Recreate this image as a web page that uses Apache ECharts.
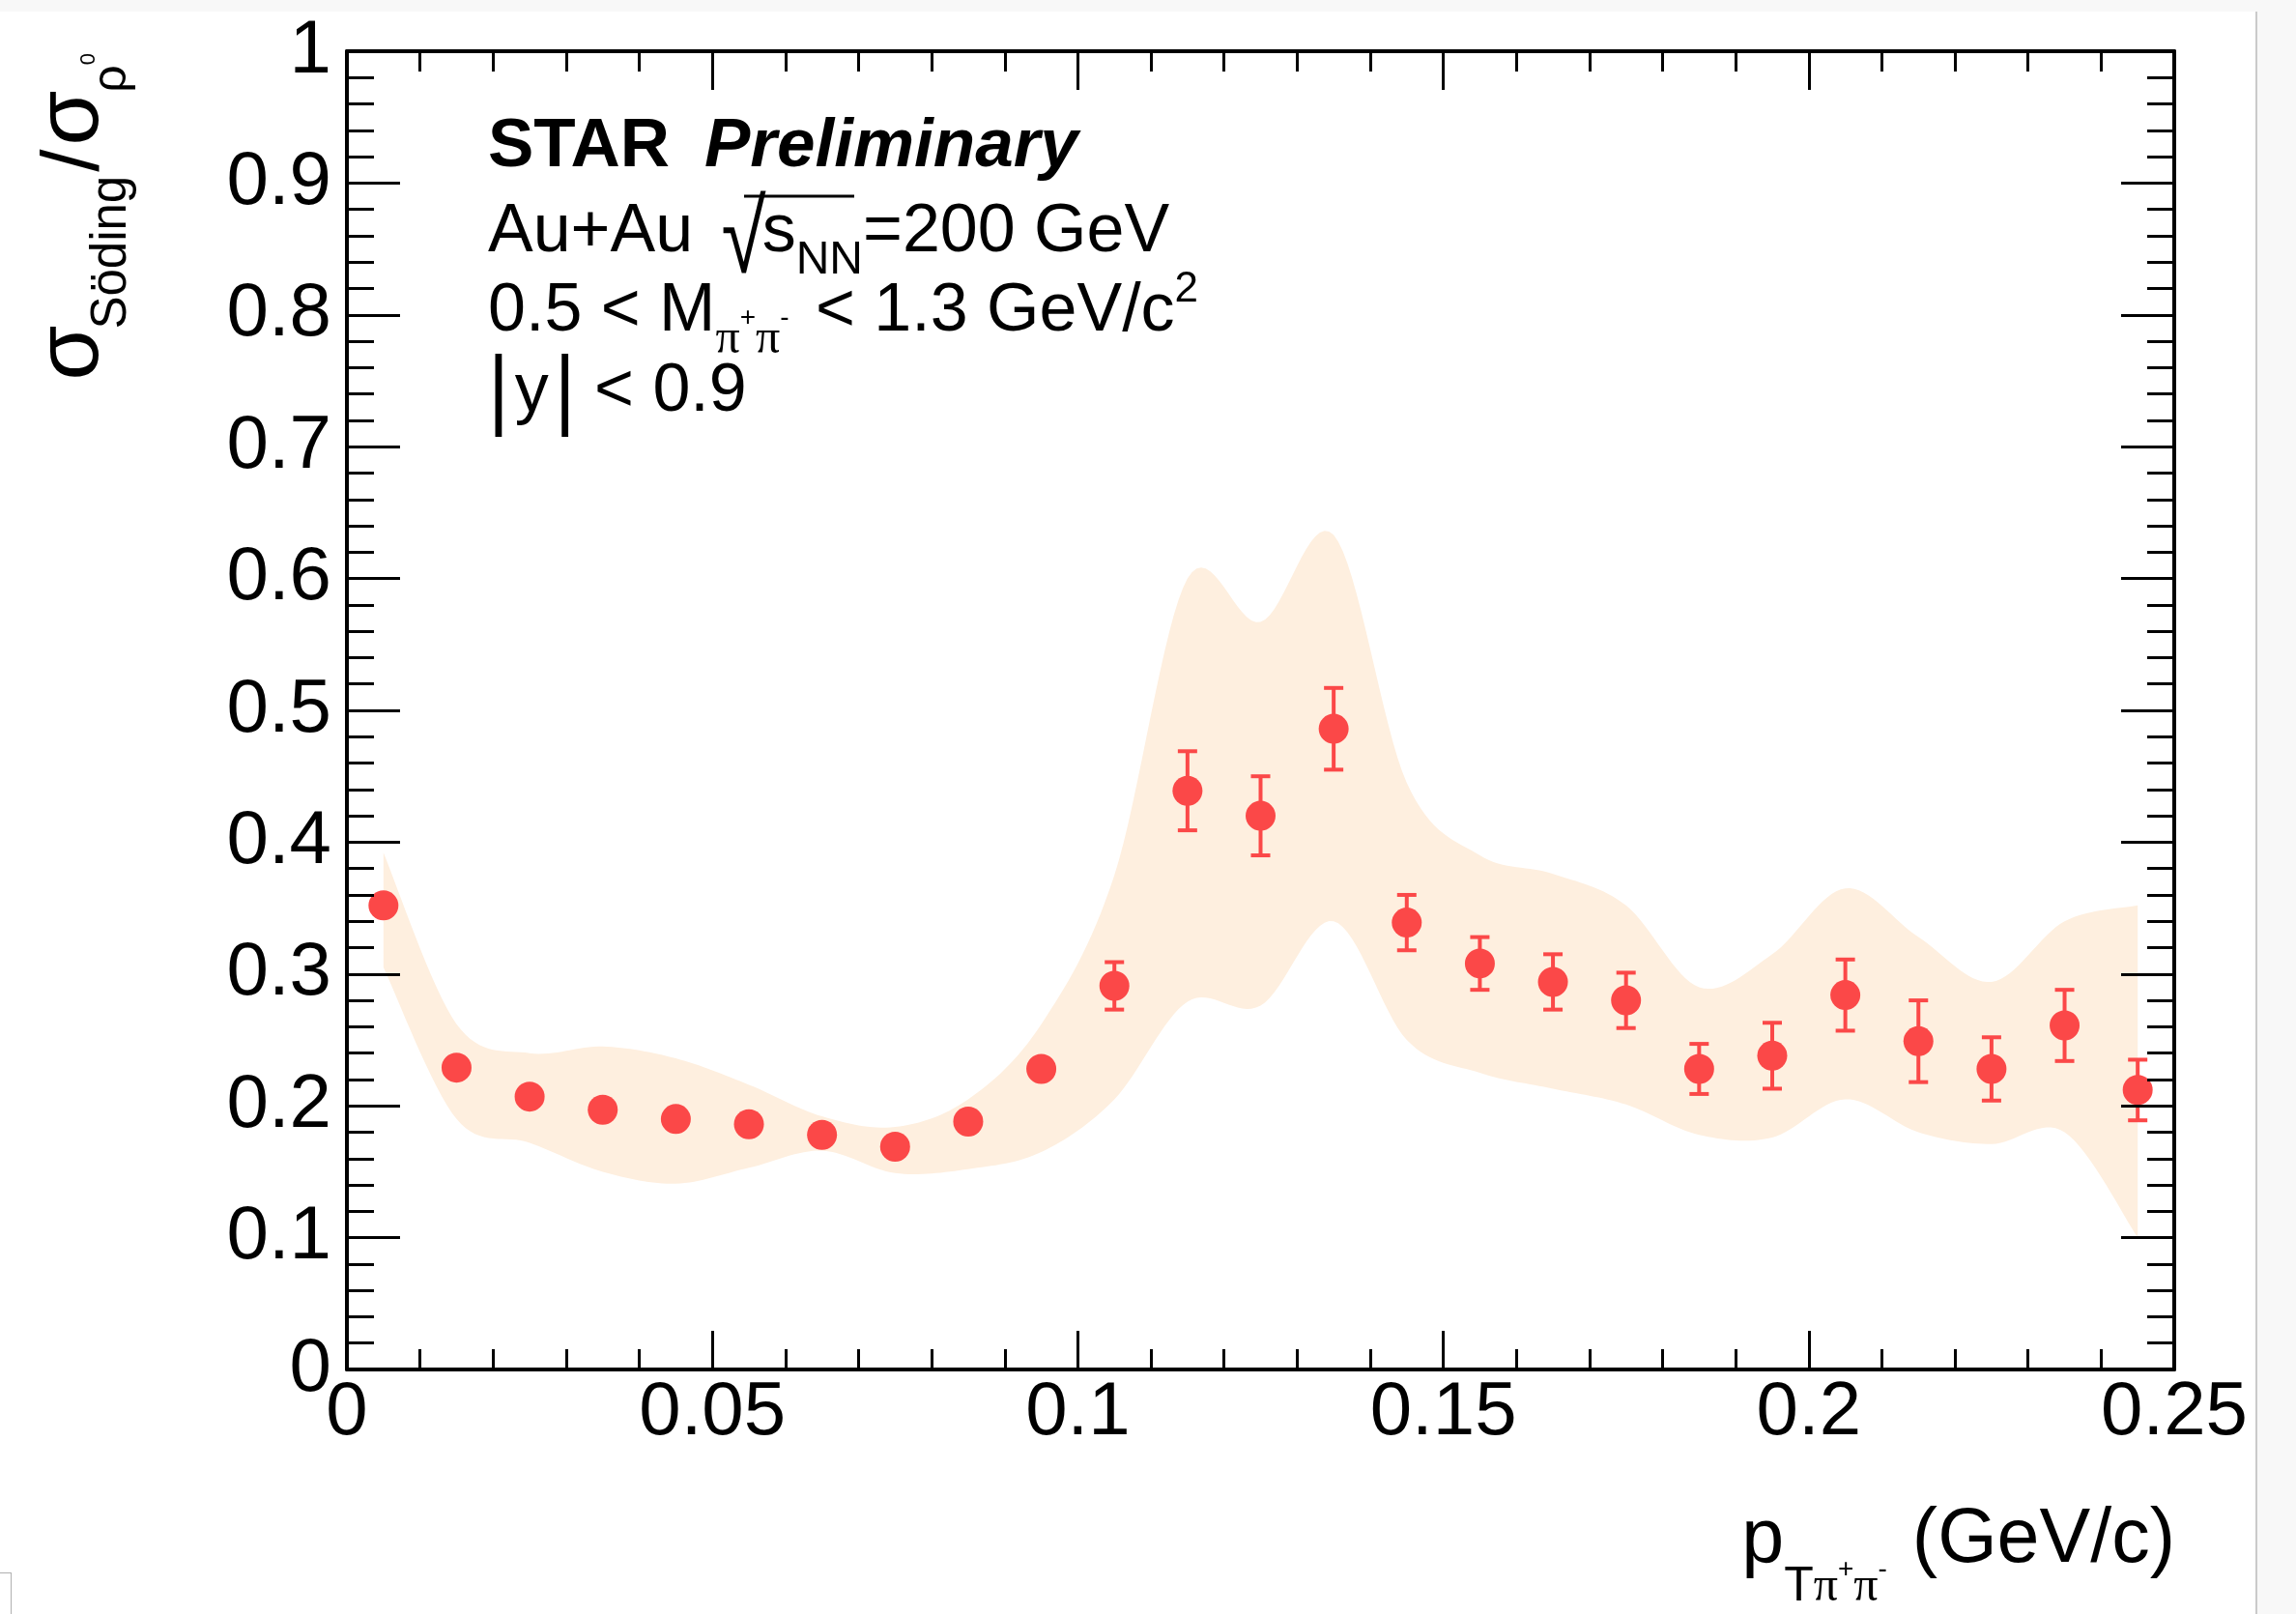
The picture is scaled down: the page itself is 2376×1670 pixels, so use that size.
<!DOCTYPE html>
<html>
<head>
<meta charset="utf-8">
<title>Söding / rho0 ratio vs pT</title>
<script src="https://cdn.jsdelivr.net/npm/echarts/dist/echarts.min.js"></script>
<style>
  html, body { margin: 0; padding: 0; background: #f8f8f8; overflow: hidden; }
  #panel { position: absolute; left: 0; top: 12px; width: 2334px; height: 1658px; background: #fff; border-right: 2px solid #cacaca; }
  #corner { position: absolute; left: -2px; top: 1627px; width: 12px; height: 60px; border: 1px solid #b0b0b0; background: #fff; }
  #chart { position: absolute; left: 0; top: 0; width: 2376px; height: 1670px; }
</style>
</head>
<body>
<div id="panel"></div>
<div id="corner"></div>
<div id="chart"></div>
<script>
// pT bin centres (GeV/c)
const ptBins = [0.005, 0.015, 0.025, 0.035, 0.045, 0.055, 0.065, 0.075, 0.085, 0.095,
                0.105, 0.115, 0.125, 0.135, 0.145, 0.155, 0.165, 0.175, 0.185, 0.195,
                0.205, 0.215, 0.225, 0.235, 0.245];
// sigma_Soding / sigma_rho0
const ratio = [0.352, 0.229, 0.207, 0.197, 0.190, 0.186, 0.178, 0.169, 0.188, 0.228,
               0.291, 0.439, 0.420, 0.486, 0.339, 0.308, 0.294, 0.280, 0.228, 0.238,
               0.284, 0.249, 0.228, 0.261, 0.212];
// statistical uncertainty
const statErr = [0.006, 0.006, 0.006, 0.006, 0.006, 0.006, 0.006, 0.007, 0.008, 0.009,
                 0.018, 0.030, 0.030, 0.031, 0.021, 0.020, 0.021, 0.021, 0.019, 0.025,
                 0.027, 0.031, 0.024, 0.027, 0.023];
// systematic band edges
const sysHigh = [0.392, 0.262, 0.240, 0.245, 0.236, 0.216, 0.192, 0.184, 0.205, 0.262,
                 0.375, 0.600, 0.567, 0.633, 0.445, 0.390, 0.376, 0.352, 0.290, 0.315,
                 0.365, 0.328, 0.294, 0.340, 0.352];
const sysLow  = [0.305, 0.190, 0.172, 0.150, 0.141, 0.153, 0.166, 0.149, 0.152, 0.165,
                 0.205, 0.279, 0.276, 0.340, 0.250, 0.225, 0.213, 0.201, 0.178, 0.176,
                 0.205, 0.180, 0.171, 0.180, 0.100];
// axis tick labels
const xTicks = [0, 0.05, 0.1, 0.15, 0.2, 0.25];
const xTickLabels = ['0', '0.05', '0.1', '0.15', '0.2', '0.25'];
const yTicks = [0, 0.1, 0.2, 0.3, 0.4, 0.5, 0.6, 0.7, 0.8, 0.9, 1];
const yTickLabels = ['0', '0.1', '0.2', '0.3', '0.4', '0.5', '0.6', '0.7', '0.8', '0.9', '1'];

const RED = '#fb4848';
const BAND = '#feefdf';
const MARKER = 31;
const SANS = "'Liberation Sans'";
const SERIF = "'Liberation Serif'";

// Catmull-Rom resampling of a pixel polyline, used for the smooth band edges
function catmull(pts, steps) {
  const out = [];
  for (let i = 0; i < pts.length - 1; i++) {
    const p0 = pts[Math.max(i - 1, 0)], p1 = pts[i], p2 = pts[i + 1], p3 = pts[Math.min(i + 2, pts.length - 1)];
    for (let s = 0; s < steps; s++) {
      const t = s / steps, t2 = t * t, t3 = t2 * t;
      const f = k => 0.5 * (2 * p1[k] + (-p0[k] + p2[k]) * t + (2 * p0[k] - 5 * p1[k] + 4 * p2[k] - p3[k]) * t2 + (-p0[k] + 3 * p1[k] - 3 * p2[k] + p3[k]) * t3);
      out.push([f(0), f(1)]);
    }
  }
  out.push(pts[pts.length - 1]);
  return out;
}

// small TLatex-like run layout: each run is a piece of text with its own size / offset
const mctx = document.createElement('canvas').getContext('2d');
function fontOf(r) {
  return (r.italic ? 'italic ' : '') + (r.bold ? 'bold ' : '') + r.size + 'px ' + (r.family || SANS);
}
function layoutRuns(runs) {
  let x = 0;
  const els = [];
  runs.forEach(r => {
    x += (r.dx || 0);
    const font = fontOf(r);
    mctx.font = font;
    const w = mctx.measureText(r.text).width;
    els.push({
      type: 'group', x: x, y: (r.dy || 0), scaleY: r.sy || 1, silent: true,
      children: [{
        type: 'text', x: 0, y: -0.35 * r.size, silent: true,
        style: { text: r.text, font: font, fill: '#000', align: 'left', verticalAlign: 'middle', textAlign: 'left', textVerticalAlign: 'middle' }
      }]
    });
    x += w + (r.after || 0);
  });
  return { els: els, width: x };
}
function textLine(runs, x, baseline, anchor) {
  const t = layoutRuns(runs);
  return { type: 'group', x: anchor === 'right' ? x - t.width : x, y: baseline, children: t.els };
}

const annotations = [
  textLine([
    { text: 'STAR', size: 71, bold: true },
    { text: 'Preliminary', size: 71, bold: true, italic: true, dx: 36 }
  ], 505, 177),
  textLine([
    { text: 'Au+Au ', size: 70 },
    { text: '\u221A', size: 84, dx: 10, dy: 25, sy: 1.27 },
    { text: 's', size: 70, dx: -4 },
    { text: 'NN', size: 48, dy: 22 },
    { text: '=200 GeV', size: 70 }
  ], 505, 265),
  textLine([
    { text: '0.5 < M', size: 70 },
    { text: '\u03C0', size: 50, family: SERIF, dy: 22 },
    { text: '+', size: 28, dy: -8 },
    { text: '\u03C0', size: 50, family: SERIF, dy: 22 },
    { text: '-', size: 28, dy: -8 },
    { text: ' < 1.3 GeV/c', size: 70, dx: 8 },
    { text: '2', size: 44, dy: -32 }
  ], 505, 347),
  textLine([
    { text: '|', size: 84, dy: 10, sy: 1.1 },
    { text: 'y', size: 70, dx: 6 },
    { text: '|', size: 84, dy: 10, dx: 6, sy: 1.1 },
    { text: ' < 0.9', size: 70 }
  ], 505, 430)
];

// overline of the square root
const sqrtBar = { type: 'line', shape: { x1: 770, y1: 203, x2: 884, y2: 203 }, style: { stroke: '#000', lineWidth: 3 }, silent: true };

// x-axis title, right-aligned with the frame
const xTitle = textLine([
  { text: 'p', size: 79 },
  { text: 'T', size: 50, dy: 38 },
  { text: '\u03C0', size: 50, family: SERIF, dy: 38 },
  { text: '+', size: 28, dy: 12 },
  { text: '\u03C0', size: 50, family: SERIF, dy: 38 },
  { text: '-', size: 28, dy: 12 },
  { text: '(GeV/c)', size: 79, dx: 26 }
], 2251, 1622, 'right');

// y-axis title, rotated, ending at the top of the frame
const yRuns = layoutRuns([
  { text: '\u03C3', size: 92 },
  { text: 'S\u00F6ding', size: 51, dy: 26, dx: -4 },
  { text: '/', size: 84, dx: 4, after: 4 },
  { text: '\u03C3', size: 92 },
  { text: '\u03C1', size: 50, dy: 26, dx: -2 },
  { text: '0', size: 22, dy: -8 }
]);
yRuns.els.forEach(e => { e.x -= yRuns.width; });
const yTitle = { type: 'group', x: 108, y: 55, rotation: Math.PI / 2, children: yRuns.els };

const chart = echarts.init(document.getElementById('chart'), null, { renderer: 'canvas' });

function axisCommon(extra) {
  return Object.assign({
    type: 'value', z: 10,
    axisLine: { show: true, onZero: false, lineStyle: { color: '#000', width: 4 } },
    splitLine: { show: false },
    minorSplitLine: { show: false }
  }, extra);
}

const xBase = { min: 0, max: 0.25, interval: 0.05 };
const yBase = { min: 0, max: 1, interval: 0.1 };
const xTickStyle = { show: true, inside: true, length: 40, lineStyle: { color: '#000', width: 3 } };
const xMinor = { show: true, splitNumber: 5, length: 21, lineStyle: { color: '#000', width: 3 } };
const yTickStyle = { show: true, inside: true, length: 55, lineStyle: { color: '#000', width: 3 } };
const yMinor = { show: true, splitNumber: 5, length: 28, lineStyle: { color: '#000', width: 3 } };

const option = {
  animation: false,
  backgroundColor: 'transparent',
  grid: { left: 359, top: 53, width: 1891, height: 1364, containLabel: false, outerBoundsMode: 'none' },
  xAxis: [
    axisCommon(Object.assign({}, xBase, {
      position: 'bottom',
      axisTick: xTickStyle, minorTick: xMinor,
      axisLabel: {
        show: true, margin: 6, color: '#000', fontFamily: SANS, fontSize: 78,
        showMinLabel: true, showMaxLabel: true,
        formatter: v => xTickLabels[xTicks.findIndex(t => Math.abs(t - v) < 1e-9)]
      }
    })),
    axisCommon(Object.assign({}, xBase, {
      position: 'top',
      axisTick: xTickStyle, minorTick: xMinor,
      axisLabel: { show: false }
    }))
  ],
  yAxis: [
    axisCommon(Object.assign({}, yBase, {
      position: 'left',
      axisTick: yTickStyle, minorTick: yMinor,
      axisLabel: {
        show: true, margin: 16, color: '#000', fontFamily: SANS, fontSize: 78,
        showMinLabel: true, showMaxLabel: true,
        formatter: v => yTickLabels[yTicks.findIndex(t => Math.abs(t - v) < 1e-9)]
      }
    })),
    axisCommon(Object.assign({}, yBase, {
      position: 'right',
      axisTick: yTickStyle, minorTick: yMinor,
      axisLabel: { show: false }
    }))
  ],
  series: [
    {
      // systematic uncertainty band
      type: 'custom', name: 'sys', xAxisIndex: 0, yAxisIndex: 0, z: 1, clip: true,
      data: [[ptBins[0], sysLow[0]]],
      renderItem: function (params, api) {
        const up = ptBins.map((x, i) => api.coord([x, sysHigh[i]]));
        const lo = ptBins.map((x, i) => api.coord([x, sysLow[i]]));
        const pts = catmull(up, 16).concat(catmull(lo, 16).reverse());
        return { type: 'polygon', shape: { points: pts }, style: { fill: BAND } };
      }
    },
    {
      // statistical error bars
      type: 'custom', name: 'stat', xAxisIndex: 0, yAxisIndex: 0, z: 2,
      data: ptBins.map((x, i) => [x, ratio[i], statErr[i]]),
      renderItem: function (params, api) {
        const x = api.value(0), y = api.value(1), e = api.value(2);
        const c = api.coord([x, y]);
        const hi = api.coord([x, y + e]);
        const lo = api.coord([x, y - e]);
        if (c[1] - hi[1] <= MARKER / 2) return null;
        const cap = 10;
        const st = { stroke: RED, lineWidth: 4 };
        return {
          type: 'group',
          children: [
            { type: 'line', shape: { x1: c[0], y1: hi[1], x2: c[0], y2: lo[1] }, style: st },
            { type: 'line', shape: { x1: c[0] - cap, y1: hi[1], x2: c[0] + cap, y2: hi[1] }, style: st },
            { type: 'line', shape: { x1: c[0] - cap, y1: lo[1], x2: c[0] + cap, y2: lo[1] }, style: st }
          ]
        };
      }
    },
    {
      type: 'scatter', name: 'ratio', xAxisIndex: 0, yAxisIndex: 0, z: 3,
      symbol: 'circle', symbolSize: MARKER,
      itemStyle: { color: RED, opacity: 1 },
      data: ptBins.map((x, i) => [x, ratio[i]])
    }
  ],
  graphic: [].concat(annotations, [sqrtBar, xTitle, yTitle])
};

chart.setOption(option);
</script>
</body>
</html>
